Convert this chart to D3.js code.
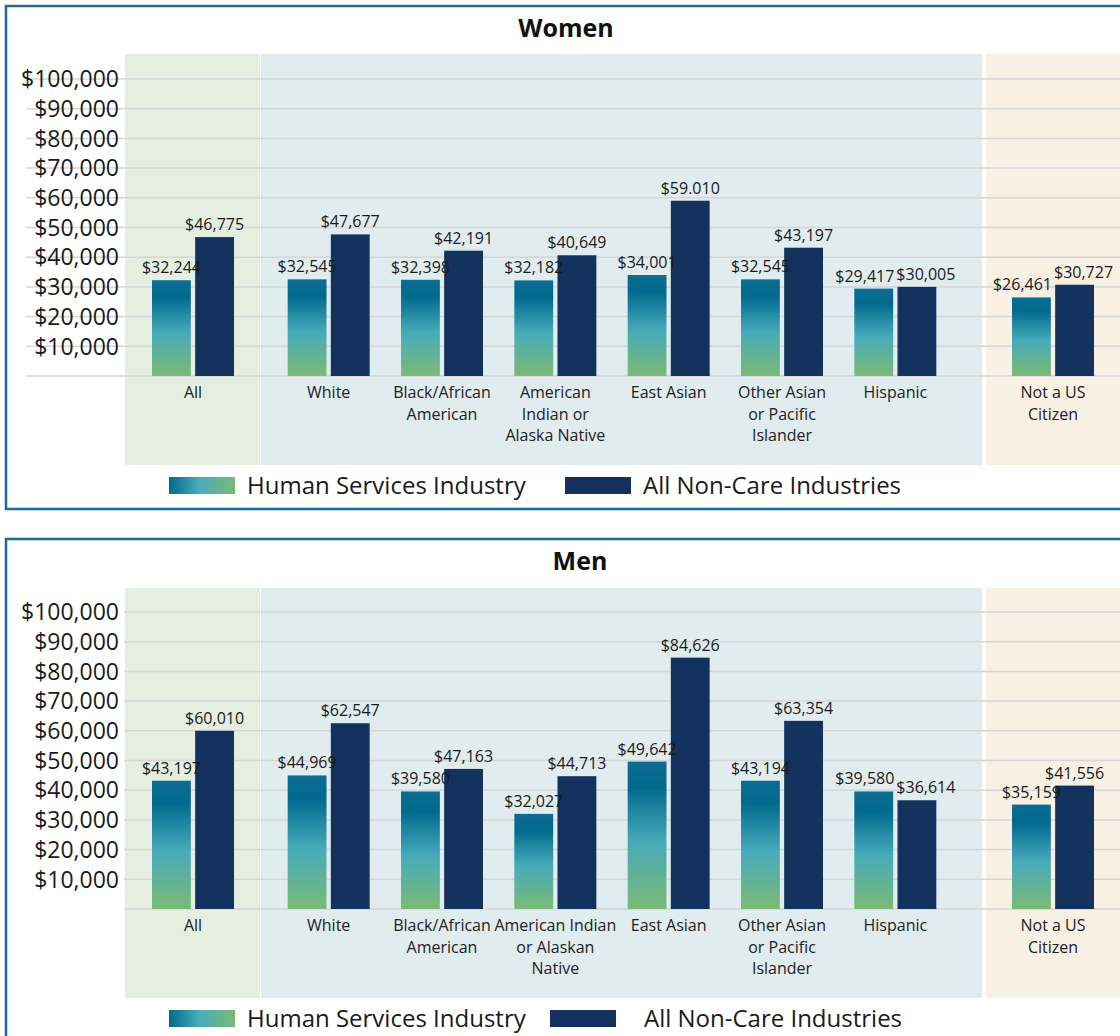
<!DOCTYPE html>
<html>
<head>
<meta charset="utf-8">
<script src="https://cdn.jsdelivr.net/npm/d3@7"></script>
<style>
  html, body { margin: 0; padding: 0; background: #fff; }
  svg { display: block; font-family: "Open Sans", "Noto Sans", sans-serif; }
</style>
</head>
<body>
<svg id="chart" width="1120" height="1036"></svg>
<script>
// ---- DATA ----
const groupAll = ["All"];
const groupRace = ["White", "Black/African American", "American Indian", "East Asian", "Other Asian", "Hispanic"];
const groupCitizen = ["Not a US Citizen"];
const categories = groupAll.concat(groupRace, groupCitizen);

const womenLabels = [["All"], ["White"], ["Black/African", "American"], ["American", "Indian or", "Alaska Native"], ["East Asian"], ["Other Asian", "or Pacific", "Islander"], ["Hispanic"], ["Not a US", "Citizen"]];
const menLabels = [["All"], ["White"], ["Black/African", "American"], ["American Indian", "or Alaskan", "Native"], ["East Asian"], ["Other Asian", "or Pacific", "Islander"], ["Hispanic"], ["Not a US", "Citizen"]];

const womenHumanServices = [32244, 32545, 32398, 32182, 34001, 32545, 29417, 26461];
const womenNonCare = [46775, 47677, 42191, 40649, 59010, 43197, 30005, 30727];
const menHumanServices = [43197, 44969, 39580, 32027, 49642, 43194, 39580, 35159];
const menNonCare = [60010, 62547, 47163, 44713, 84626, 63354, 36614, 41556];

// value label text as printed (one label uses a period separator)
const womenNonCareText = ["$46,775", "$47,677", "$42,191", "$40,649", "$59.010", "$43,197", "$30,005", "$30,727"];

const yTicks = [10000, 20000, 30000, 40000, 50000, 60000, 70000, 80000, 90000, 100000];
const seriesNames = ["Human Services Industry", "All Non-Care Industries"];

// ---- DRAW ----
const svg = d3.select("#chart");
const W = 1120;
const fmt = d3.format("$,.0f");
const darkBlue = "#13335e";

const defs = svg.append("defs");
const vg = defs.append("linearGradient").attr("id", "barGrad")
  .attr("x1", 0).attr("y1", 0).attr("x2", 0).attr("y2", 1);
[[0, "#0d6c91"], [0.17, "#006a8e"], [0.55, "#48abbb"], [1, "#7aba74"]].forEach(([o, c]) =>
  vg.append("stop").attr("offset", o).attr("stop-color", c));
const hg = defs.append("linearGradient").attr("id", "legGrad")
  .attr("x1", 0).attr("y1", 0).attr("x2", 1).attr("y2", 0);
[[0, "#006a8e"], [0.45, "#48abbb"], [1, "#7aba74"]].forEach(([o, c]) =>
  hg.append("stop").attr("offset", o).attr("stop-color", c));

// x scales per section
const xAll = d3.scaleBand().domain(groupAll).range([125, 261]);
const xRace = d3.scaleBand().domain(groupRace).range([272, 952]);
const xCit = d3.scaleBand().domain(groupCitizen).range([986, 1120]);
function center(cat) {
  if (groupAll.includes(cat)) return xAll(cat) + xAll.bandwidth() / 2;
  if (groupRace.includes(cat)) return xRace(cat) + xRace.bandwidth() / 2;
  return xCit(cat) + xCit.bandwidth() / 2;
}
const xSub = d3.scaleBand().domain(["hs", "nc"]).range([-41, 41]).paddingInner(0.1);

function panel(opts) {
  const { top, title, titleX, hs, nc, ncText, labels, baseline, y100, gridStart, legendY, ncSwatchX, ncTextX, bandTop, bandBottom } = opts;
  const g = svg.append("g");

  // frame
  g.append("rect").attr("x", 6).attr("y", top).attr("width", W + 20).attr("height", opts.frameH)
    .attr("fill", "#fff").attr("stroke", "#1c6e98").attr("stroke-width", 2.5);

  // bands
  g.append("rect").attr("x", 125).attr("y", bandTop).attr("width", 135).attr("height", bandBottom - bandTop).attr("fill", "#e5efe0");
  g.append("rect").attr("x", 261).attr("y", bandTop).attr("width", 721).attr("height", bandBottom - bandTop).attr("fill", "#e1ecee");
  g.append("rect").attr("x", 986).attr("y", bandTop).attr("width", 140).attr("height", bandBottom - bandTop).attr("fill", "#f8f0e2");

  // title
  g.append("text").attr("x", titleX).attr("y", top + 31).attr("text-anchor", "middle")
    .attr("font-size", 25).attr("font-weight", 700).attr("fill", "#111").text(title);

  const y = d3.scaleLinear().domain([0, 100000]).range([baseline, y100]);

  // gridlines
  g.selectAll(".grid").data([0].concat(yTicks)).join("line")
    .attr("x1", gridStart).attr("x2", W).attr("y1", d => y(d)).attr("y2", d => y(d))
    .attr("stroke", "#d5d6d8").attr("stroke-width", 1.5);

  // y labels
  g.selectAll(".ylab").data(yTicks).join("text")
    .attr("x", 119).attr("y", d => y(d)).attr("dy", "0.36em").attr("text-anchor", "end")
    .attr("font-size", 23).attr("fill", "#1a1a1a").text(d => fmt(d));

  // bars
  const rows = categories.map((c, i) => ({ c, i, hs: hs[i], nc: nc[i] }));
  g.selectAll(".hs").data(rows).join("rect")
    .attr("x", d => center(d.c) + xSub("hs")).attr("width", xSub.bandwidth())
    .attr("y", d => y(d.hs)).attr("height", d => baseline - y(d.hs))
    .attr("fill", "url(#barGrad)");
  g.selectAll(".nc").data(rows).join("rect")
    .attr("x", d => center(d.c) + xSub("nc")).attr("width", xSub.bandwidth())
    .attr("y", d => y(d.nc)).attr("height", d => baseline - y(d.nc))
    .attr("fill", darkBlue);

  // value labels (pushed apart horizontally when they would collide)
  rows.forEach(d => {
    const cxH = center(d.c) + xSub("hs") + xSub.bandwidth() / 2;
    const cxN = center(d.c) + xSub("nc") + xSub.bandwidth() / 2;
    const tH = g.append("text").attr("x", cxH).attr("y", y(d.hs) - 7)
      .attr("text-anchor", "middle").attr("font-size", 16).attr("fill", "#1a1a1a").text(fmt(d.hs));
    const tN = g.append("text").attr("x", cxN).attr("y", y(d.nc) - 7)
      .attr("text-anchor", "middle").attr("font-size", 16).attr("fill", "#1a1a1a")
      .text(ncText ? ncText[d.i] : fmt(d.nc));
    const wH = tH.node().getComputedTextLength();
    const wN = tN.node().getComputedTextLength();
    if (Math.abs(y(d.hs) - y(d.nc)) < 18) {
      const overlap = (wH + wN) / 2 - (cxN - cxH) + 2;
      if (overlap > 0) {
        tH.attr("x", cxH - overlap / 2);
        tN.attr("x", cxN + overlap / 2);
      }
    }
  });

  // category labels
  rows.forEach(d => {
    const t = g.append("text").attr("x", center(d.c)).attr("y", baseline + 22)
      .attr("text-anchor", "middle").attr("font-size", 16).attr("fill", "#222");
    labels[d.i].forEach((line, k) => t.append("tspan").attr("x", center(d.c)).attr("dy", k === 0 ? 0 : 21.5).text(line));
  });

  // legend
  g.append("rect").attr("x", 169).attr("y", legendY - 8.5).attr("width", 66).attr("height", 17).attr("fill", "url(#legGrad)");
  g.append("text").attr("x", 247).attr("y", legendY).attr("dy", "0.36em").attr("font-size", 24).attr("fill", "#1a1a1a").text(seriesNames[0]);
  g.append("rect").attr("x", ncSwatchX).attr("y", legendY - 8.5).attr("width", 66).attr("height", 17).attr("fill", darkBlue);
  g.append("text").attr("x", ncTextX).attr("y", legendY).attr("dy", "0.36em").attr("font-size", 24).attr("fill", "#1a1a1a").text(seriesNames[1]);
}

panel({
  top: 6, frameH: 503, title: "Women", titleX: 566, hs: womenHumanServices, nc: womenNonCare, ncText: womenNonCareText,
  labels: womenLabels, baseline: 376, y100: 79, gridStart: 26, legendY: 485.5,
  ncSwatchX: 565, ncTextX: 643, bandTop: 54, bandBottom: 465
});
panel({
  top: 539, frameH: 600, title: "Men", titleX: 580, hs: menHumanServices, nc: menNonCare, ncText: null,
  labels: menLabels, baseline: 909, y100: 612, gridStart: 124, legendY: 1018.5,
  ncSwatchX: 550, ncTextX: 644, bandTop: 588, bandBottom: 998
});
</script>
</body>
</html>
